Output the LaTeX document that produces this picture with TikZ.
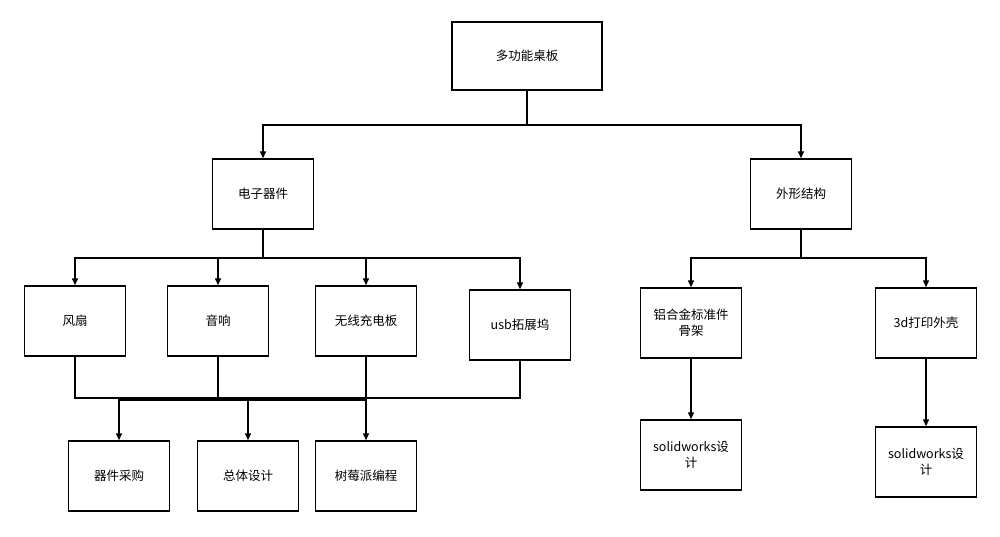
\documentclass[tikz,border=0pt]{standalone}
\usepackage{fontspec}
\setmainfont{Noto Sans CJK SC}
\usetikzlibrary{arrows.meta}
\begin{document}
\begin{tikzpicture}[x=1pt,y=-1pt,
  box/.style={draw,line width=1.4pt,minimum width=101pt,minimum height=70pt,inner sep=2pt,align=center,font=\fontsize{12.5}{16}\selectfont,text width=95pt},
  con/.style={line width=1.4pt},
  arr/.style={line width=1.4pt,-{Triangle[length=7pt,width=6pt]}}]
\useasboundingbox[fill=white] (0,0) rectangle (1000,537);
\node[box,minimum width=150pt,minimum height=68pt,text width=140pt] (top) at (527,56) {多功能桌板};
\node[box] (dz) at (263,194) {电子器件};
\node[box] (wx) at (801,194) {外形结构};
\node[box] (fs) at (75,321) {风扇};
\node[box] (yx) at (218,321) {音响};
\node[box] (wc) at (366,321) {无线充电板};
\node[box] (usb) at (520,325) {usb拓展坞};
\node[box] (lh) at (691,323) {铝合金标准件\\骨架};
\node[box] (dd) at (926,323) {3d打印外壳};
\node[box] (cg) at (119,476) {器件采购};
\node[box] (zt) at (248,476) {总体设计};
\node[box] (sm) at (366,476) {树莓派编程};
\node[box] (sw1) at (691,455) {solidworks设\\计};
\node[box] (sw2) at (926,462) {solidworks设\\计};
\coordinate (h1) at (527,125);
\draw[con] (top.south) -- (h1);
\draw[arr] (h1) -| (dz.north);
\draw[arr] (h1) -| (wx.north);
\coordinate (h2) at (263,258);
\draw[con] (dz.south) -- (h2);
\draw[arr] (h2) -| (fs.north);
\draw[arr] (h2) -| (yx.north);
\draw[arr] (h2) -| (wc.north);
\draw[arr] (h2) -| (usb.north);
\coordinate (h3) at (801,258);
\draw[con] (wx.south) -- (h3);
\draw[arr] (h3) -| (lh.north);
\draw[arr] (h3) -| (dd.north);
\coordinate (b1) at (75,398);
\coordinate (b2) at (520,398);
\draw[con] (fs.south) -- (b1) -- (b2) -- (usb.south);
\draw[con] (yx.south) -- (218,398);
\draw[con] (wc.south) -- (366,398);
\coordinate (b3) at (248,400);
\draw[arr] (b3) -| (cg.north);
\draw[arr] (b3) -- (zt.north);
\draw[arr] (b3) -| (sm.north);
\draw[arr] (lh.south) -- (sw1.north);
\draw[arr] (dd.south) -- (sw2.north);
\end{tikzpicture}
\end{document}
